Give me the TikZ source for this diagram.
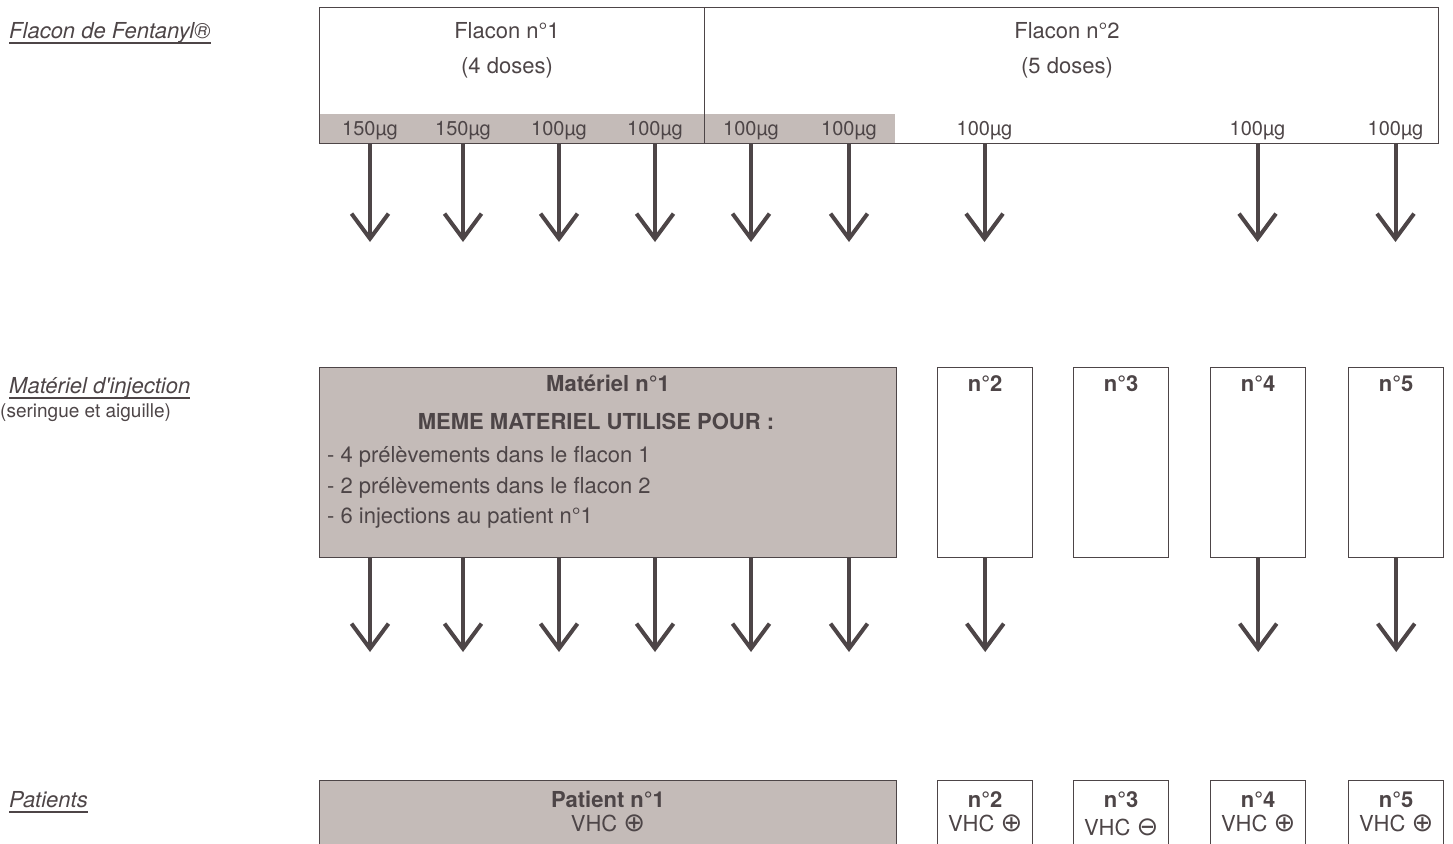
\documentclass[tikz,border=0pt]{standalone}
\usepackage{fontspec}
\setmainfont{TeX Gyre Heros}
\newfontfamily\signfont{DejaVu Sans}
\usetikzlibrary{arrows.meta,positioning}
\definecolor{ink}{HTML}{4D4547}
\definecolor{vialgrey}{HTML}{C4BBB8}
\newcommand\bodysize{\fontsize{22}{26}\selectfont}
\newcommand\dosesize{\fontsize{20}{24}\selectfont}
\newcommand\signplus{{\signfont\fontsize{26}{28}\selectfont ⊕}}
\newcommand\signminus{{\signfont\fontsize{26}{28}\selectfont ⊖}}
\newcommand\ulabel[1]{\setbox0\hbox{#1}\rlap{\rule[-6pt]{\wd0}{1.6pt}}\box0}
\tikzset{
  frame/.style={draw=ink, line width=1.4pt, inner sep=0pt, anchor=north west},
  shaded/.style={frame, fill=vialgrey},
  txt/.style={inner sep=0pt, anchor=base, text=ink, font=\bodysize},
  bold/.style={txt, font=\bodysize\bfseries},
  lbl/.style={inner sep=0pt, anchor=base west, text=ink, font=\bodysize},
  flow/.style={draw=ink, line width=4pt, -{Straight Barb[length=25pt,width=37pt,sharp]}}
}
\begin{document}
\begin{tikzpicture}[x=1pt,y=-1pt]
\useasboundingbox (0,0) rectangle (1453,843);
\clip (0,0) rectangle (1453,843);

\node[lbl] (lflacon) at (9,38) {\ulabel{\itshape Flacon de Fentanyl®}};
\node[lbl] (lmat) at (9,393) {\ulabel{\itshape Matériel d\textquotesingle injection}};
\node[lbl, font=\fontsize{19}{22}\selectfont] (lmat2) at (0,417) {(seringue et aiguille)};
\node[lbl] (lpat) at (9,807) {\ulabel{\itshape Patients}};

\fill[vialgrey] (319,114) rectangle (895,143);
\node[frame, minimum width=385pt, minimum height=136pt] (flac1) at (319,7) {};
\node[frame, minimum width=734pt, minimum height=136pt] (flac2) at (704,7) {};
\node[txt] (f1) at (507,38) {Flacon n°1};
\node[txt] (f1d) at (507,74) {(4 doses)};
\node[txt] (f2) at (1067,38) {Flacon n°2};
\node[txt] (f2d) at (1067,74) {(5 doses)};
\foreach \x/\q [count=\i] in {370/150,463/150,559/100,655/100,751/100,849/100,984.5/100,1257.5/100,1395.5/100}
  \node[txt, font=\dosesize] (d\i) at (\x,135) {\q µg};

\foreach \i in {1,...,9}{
  \coordinate (t\i) at (d\i |- 0,242);
  \draw[flow] (d\i |- flac1.south) -- (t\i);
}

\node[shaded, minimum width=577pt, minimum height=190pt] (mat1) at (319,367) {};
\foreach \x/\n in {937/2,1073/3,1210/4,1348/5}{
  \node[frame, minimum width=95pt, minimum height=190pt] (mat\n) at (\x,367) {};
  \node[bold] at (mat\n.north |- 0,391) {n°\n};
}
\node[bold] (mtitle) at (608,391) {Matériel n°1};
\node[bold] (mhead) at (596,429) {MEME MATERIEL UTILISE POUR :};
\node[lbl] (m1) at (327,462) {- 4 prélèvements dans le flacon 1};
\node[lbl] (m2) at (327,493) {- 2 prélèvements dans le flacon 2};
\node[lbl] (m3) at (327,523) {- 6 injections au patient n°1};

\foreach \i in {1,...,6}{
  \coordinate (u\i) at (d\i |- 0,652);
  \draw[flow] (d\i |- mat1.south) -- (u\i);
}
\foreach \n/\i in {2/7,4/8,5/9}{
  \coordinate (u\i) at (mat\n.south |- 0,652);
  \draw[flow] (mat\n.south) -- (u\i);
}

\node[shaded, minimum width=577pt, minimum height=100pt] (pat1) at (319,780) {};
\node[bold] (p1) at (608,807) {Patient n°1};
\node[txt] (v1) at (608,831) {VHC \signplus};
\foreach \x/\n/\s/\y in {937/2/\signplus/831,1073/3/\signminus/835,1210/4/\signplus/831,1348/5/\signplus/831}{
  \node[frame, minimum width=95pt, minimum height=100pt] (pat\n) at (\x,780) {};
  \node[bold] at (pat\n.north |- 0,807) {n°\n};
  \node[txt] at (pat\n.north |- 0,\y) {VHC \s};
}
\end{tikzpicture}
\end{document}
